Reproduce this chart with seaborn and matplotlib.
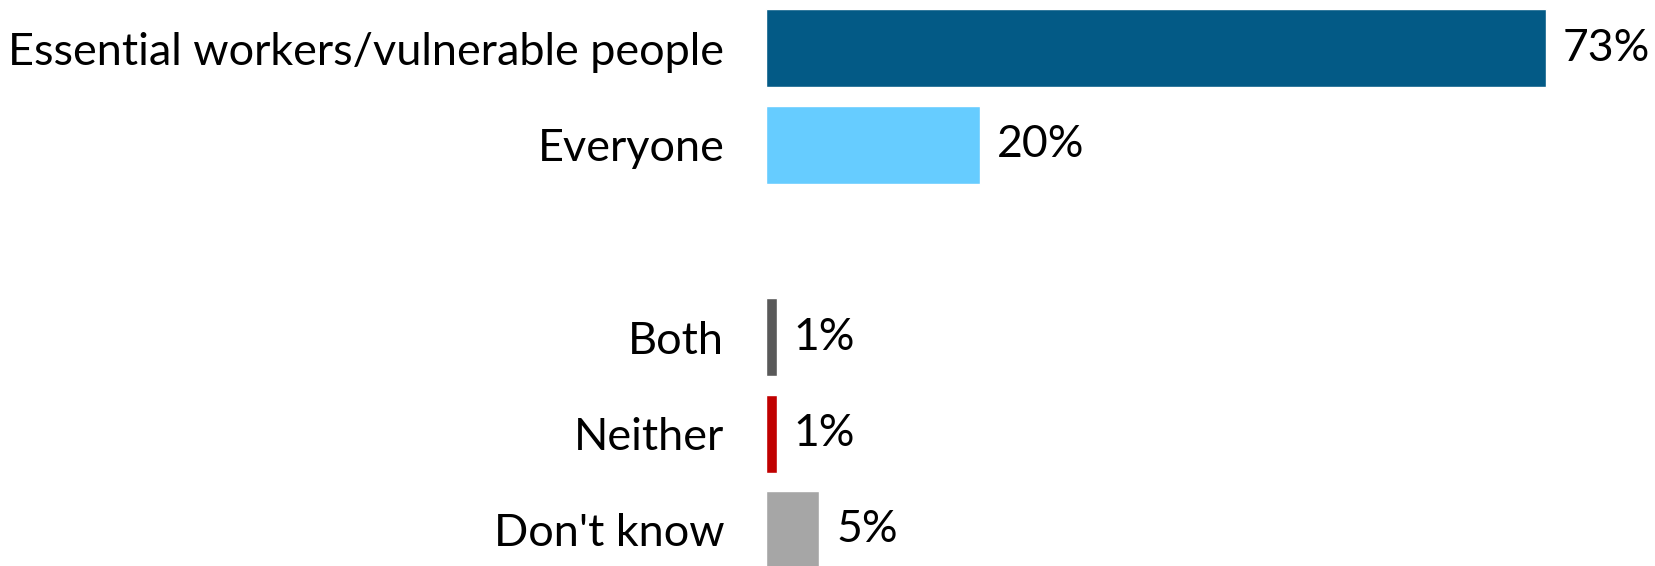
import matplotlib
matplotlib.use("Agg")
import matplotlib.pyplot as plt
import seaborn as sns
import pandas as pd

# Data (blank row is the visual gap)
categories = ["Essential workers/vulnerable people", "Everyone", "", "Both", "Neither", "Don't know"]
values = [73, 20, 0, 1, 1, 5]
colors = ["#035A86", "#66CCFF", "#FFFFFF", "#595959", "#C00000", "#A6A6A6"]

sns.set_theme(style="white")
plt.rcParams['font.family'] = ['Lato', 'DejaVu Sans']

df = pd.DataFrame({'category': categories, 'value': values})

fig = plt.figure(figsize=(16.55, 5.66), dpi=100)
ax = fig.add_axes([766 / 1655, 0, 1 - 766 / 1655, 1])

sns.barplot(data=df, y='category', x='value', hue='category', order=categories,
            palette=dict(zip(categories, colors)), orient='h', width=0.81,
            legend=False, ax=ax, saturation=1)

ax.set_xlim(0, 83.2)
ax.set_ylim(5.374, -0.5)
ax.set_xlabel('')
ax.set_ylabel('')
ax.set_xticks([])
sns.despine(ax=ax, left=True, bottom=True, top=True, right=True)
ax.tick_params(axis='y', length=0, pad=30, labelsize=32.4, labelcolor='black')

# value labels
for i, v in enumerate(values):
    if categories[i] == "":
        continue
    ax.text(v + 1.6, i, f"{v}%", va='center', ha='left', fontsize=32, color='black')

fig.savefig('out.png', dpi=100)
